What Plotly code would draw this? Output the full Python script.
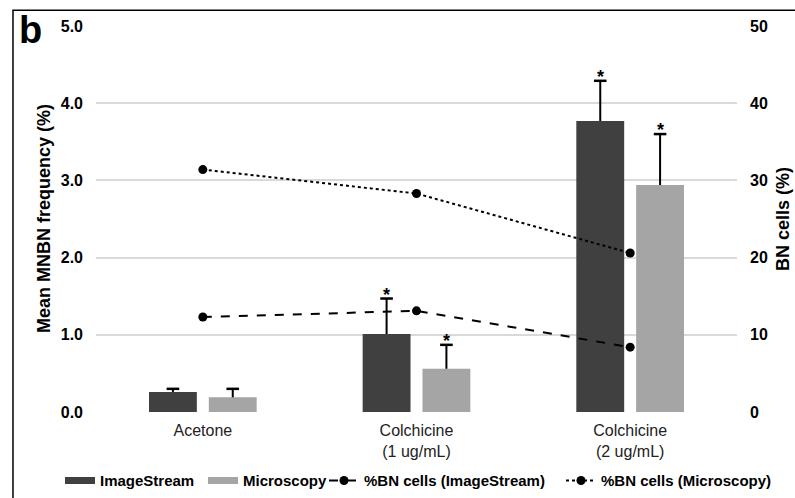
import plotly.graph_objects as go

# Treatment groups (x categories)
categories = ["Acetone", "Colchicine<br>(1 ug/mL)", "Colchicine<br>(2 ug/mL)"]

# Mean MNBN frequency (%) and upper error (SD)
imagestream_mnbn = [0.26, 1.01, 3.77]
imagestream_err = [0.04, 0.46, 0.52]
microscopy_mnbn = [0.19, 0.56, 2.94]
microscopy_err = [0.11, 0.31, 0.66]

# Significance markers above each bar
imagestream_sig = [False, True, True]
microscopy_sig = [False, True, True]

# Percentage of binucleated cells (right axis)
bn_imagestream = [12.3, 13.1, 8.4]
bn_microscopy = [31.4, 28.3, 20.6]

FONT = "Liberation Sans, Arial, sans-serif"
DARK = "#404040"
LIGHT = "#a5a5a5"

fig = go.Figure()

# Bars with upward-only error stems
for name, vals, errs, color, grp in [
    ("ImageStream", imagestream_mnbn, imagestream_err, DARK, "img"),
    ("Microscopy", microscopy_mnbn, microscopy_err, LIGHT, "mic"),
]:
    fig.add_trace(go.Bar(
        name=name, x=categories, y=vals, offsetgroup=grp, showlegend=False,
        marker=dict(color=color, line=dict(width=0)),
        error_y=dict(type="data", array=errs, arrayminus=[0] * len(errs),
                     symmetric=False, color="black", thickness=2, width=0),
    ))
    # cap on top of each error stem
    fig.add_trace(go.Scatter(
        x=categories, y=[v + e for v, e in zip(vals, errs)], offsetgroup=grp,
        mode="markers", showlegend=False, hoverinfo="skip",
        marker=dict(symbol="line-ew", size=9, color="black",
                    line=dict(color="black", width=2.5)),
    ))

# %BN cells lines on the right axis (own x overlay so they sit at category centres)
fig.add_trace(go.Scatter(
    name="%BN cells (ImageStream)", x=categories, y=bn_imagestream,
    xaxis="x2", yaxis="y2", offsetgroup="bn", legend="legend3",
    mode="lines+markers",
    line=dict(color="black", width=2, dash="dash"),
    marker=dict(color="black", size=9),
))
fig.add_trace(go.Scatter(
    name="%BN cells (Microscopy)", x=categories, y=bn_microscopy,
    xaxis="x2", yaxis="y2", offsetgroup="bn", legend="legend4",
    mode="lines+markers",
    line=dict(color="black", width=2, dash="dot"),
    marker=dict(color="black", size=9),
))

# Legend keys for the bar series (wide flat swatches)
for name, color, lg in [("ImageStream", DARK, "legend"), ("Microscopy", LIGHT, "legend2")]:
    fig.add_trace(go.Scatter(
        name=name, x=[None], y=[None], xaxis="x2", yaxis="y2", offsetgroup="bn",
        mode="lines", legend=lg, line=dict(color=color, width=7),
    ))

# Asterisks over significant bars
annotations = []
for vals, errs, sig, shift in [
    (imagestream_mnbn, imagestream_err, imagestream_sig, -30),
    (microscopy_mnbn, microscopy_err, microscopy_sig, 30),
]:
    for cat, v, e, s in zip(categories, vals, errs, sig):
        if s:
            annotations.append(dict(
                x=cat, y=v + e, xref="x", yref="y", text="<b>*</b>", showarrow=False,
                xshift=shift, yshift=4, font=dict(family=FONT, size=18, color="black"),
            ))

# Axis titles and panel letter
annotations += [
    dict(text="<b>Mean MNBN frequency (%)</b>", textangle=-90, x=0, y=0.5,
         xref="paper", yref="paper", xanchor="center", yanchor="middle",
         xshift=-52, showarrow=False,
         font=dict(family=FONT, size=18, color="black")),
    dict(text="<b>BN cells (%)</b>", textangle=-90, x=1.0, y=0.5,
         xref="paper", yref="paper", xanchor="center", yanchor="middle",
         xshift=46, showarrow=False,
         font=dict(family=FONT, size=18, color="black")),
    dict(text="<b>b</b>", x=0, y=1, xref="paper", yref="paper", showarrow=False,
         xanchor="left", yanchor="top", xshift=-79, yshift=19,
         font=dict(family=FONT, size=38, color="black")),
]

legend_font = dict(family=FONT, size=15, color="black", weight="bold")


def legend_at(px):
    return dict(orientation="h", xref="container", x=px / 795, xanchor="left",
                y=-0.178, yanchor="middle", font=legend_font, itemwidth=30,
                bgcolor="rgba(0,0,0,0)")


cat_range = [-0.5, len(categories) - 0.5]

fig.update_layout(
    width=795, height=498,
    margin=dict(l=96, r=58, t=26, b=86, autoexpand=False),
    paper_bgcolor="white", plot_bgcolor="white",
    barmode="group", bargap=0.44, bargroupgap=0.2,
    scattermode="group", scattergap=0.44,
    font=dict(family=FONT, size=14, color="black"),
    xaxis=dict(showline=False, ticks="", ticklabelstandoff=7, range=cat_range,
               tickfont=dict(family=FONT, size=16, color="#222")),
    xaxis2=dict(overlaying="x", visible=False, range=cat_range,
                categoryorder="array", categoryarray=categories),
    yaxis=dict(range=[0, 5], dtick=1, tickformat=".1f", showgrid=True,
               gridcolor="#d9d9d9", gridwidth=1.5, zeroline=False, showline=False,
               ticks="", ticklabelstandoff=12,
               tickfont=dict(family=FONT, size=16, color="black", weight="bold")),
    yaxis2=dict(range=[0, 50], dtick=10, overlaying="y", side="right",
                showgrid=False, zeroline=False, showline=False, ticks="",
                ticklabelstandoff=12,
                tickfont=dict(family=FONT, size=16, color="black", weight="bold")),
    legend=legend_at(60),
    legend2=legend_at(203),
    legend3=legend_at(324),
    legend4=legend_at(561),
    annotations=annotations,
    shapes=[dict(type="rect", xref="paper", yref="paper",
                 x0=-0.1295, x1=1.2, y0=-0.3, y1=1.0406,
                 line=dict(color="black", width=1.5))],
)

fig.write_html("out.html")
